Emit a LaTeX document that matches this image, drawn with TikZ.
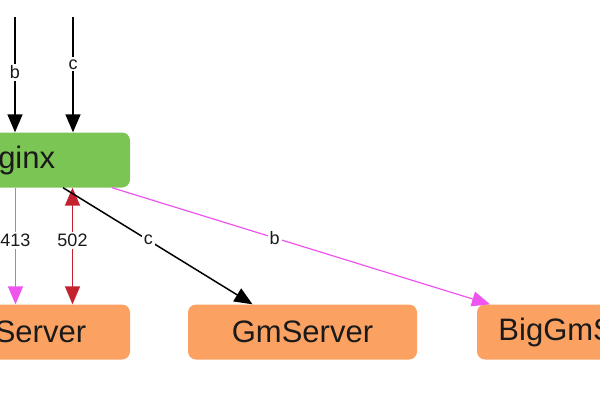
\documentclass[tikz,border=0pt]{standalone}
\usepackage{fontspec}
\setmainfont{Liberation Sans}
\usetikzlibrary{arrows.meta, positioning, calc}
\definecolor{nginxgreen}{HTML}{7BC555}
\definecolor{srvorange}{HTML}{FBA262}
\definecolor{pinkline}{HTML}{EE55EE}
\definecolor{errred}{HTML}{C4222F}
\definecolor{textdark}{HTML}{1A1A1A}

\begin{document}
\begin{tikzpicture}[
  x=1pt, y=-1pt,
  box/.style={rectangle, rounded corners=8pt, minimum width=229pt,
              minimum height=55pt, inner sep=0pt, text=textdark,
              font=\fontsize{31}{36}\selectfont},
  gatebox/.style={box, fill=nginxgreen},
  srvbox/.style={box, fill=srvorange},
  arrow/.style={-{Triangle[length=18pt, width=15pt]}, line width=1.5pt},
  biarrow/.style={{Triangle[length=18pt, width=15pt]}-{Triangle[length=18pt, width=15pt]}, line width=1.5pt},
  lbl/.style={fill=white, inner sep=2pt, text=textdark,
              font=\fontsize{18}{20}\selectfont}
]
  \useasboundingbox (0,0) rectangle (600,400);
  \clip (0,0) rectangle (600,400);
  \fill[white] (0,0) rectangle (600,400);

  % boxes
  \node[gatebox] (nginx) at (15.5,160) {Nginx};
  \node[srvbox] (srv) at (15.5,332) {\phantom{Gm}Server};
  \node[srvbox] (gm) at (302.5,332) {GmServer};
  \node[srvbox] (big) at (591.5,332) {BigGmServer};

  % incoming requests
  \coordinate (bsrc) at (15,17);
  \coordinate (csrc) at (73,17);
  \draw[arrow] (bsrc) -- node[lbl, pos=0.48] {b} (bsrc |- nginx.north);
  \draw[arrow] (csrc) -- node[lbl, pos=0.41] {c} (csrc |- nginx.north);

  % nginx to servers
  \draw[arrow, pinkline] (nginx.south) -- node[lbl, pos=0.45] {413} (srv.north);
  \draw[biarrow, errred] ([xshift=57pt]nginx.south) -- node[lbl, pos=0.45] {502} ([xshift=57pt]srv.north);
  \draw[arrow] ([xshift=47.5pt]nginx.south) -- node[lbl, pos=0.45] {c} ([xshift=-50pt]gm.north);
  \draw[arrow, pinkline, line width=1.2pt] ([xshift=96.5pt]nginx.south) -- node[lbl, pos=0.43] {b} ([xshift=-101.5pt]big.north);
\end{tikzpicture}
\end{document}
